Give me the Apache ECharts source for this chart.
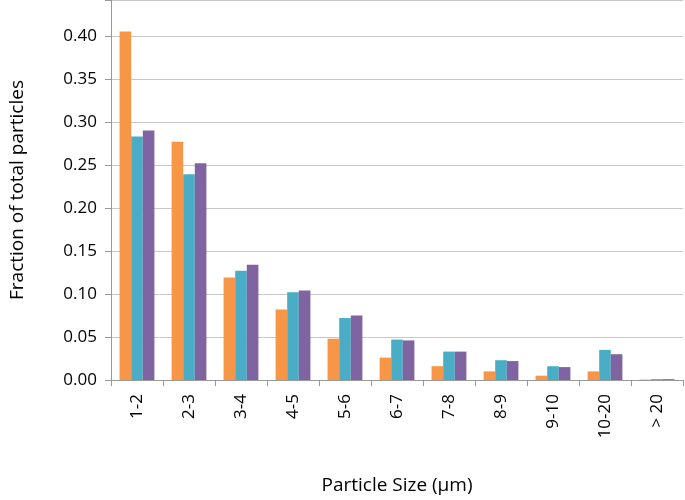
<!DOCTYPE html>
<html>
<head>
<meta charset="utf-8">
<script src="https://cdn.jsdelivr.net/npm/echarts@6/dist/echarts.min.js"></script>
<style>html,body{margin:0;padding:0;background:#fff}#main{width:685px;height:500px}</style>
</head>
<body>
<div id="main"></div>
<script>
// 粒径分类
var categories = ['1-2', '2-3', '3-4', '4-5', '5-6', '6-7', '7-8', '8-9', '9-10', '10-20', '> 20'];
var orangeVals = [0.405, 0.277, 0.119, 0.082, 0.048, 0.026, 0.016, 0.010, 0.005, 0.010, 0.0005];
var blueVals = [0.283, 0.239, 0.127, 0.102, 0.072, 0.047, 0.033, 0.023, 0.016, 0.035, 0.001];
var purpleVals = [0.290, 0.252, 0.134, 0.104, 0.075, 0.046, 0.033, 0.022, 0.015, 0.030, 0.001];

var myChart = echarts.init(document.getElementById('main'));
var font = 'Open Sans';
var option = {
  color: ['#F79646', '#4BACC6', '#8064A2'],
  animation: false,
  grid: {left: 108, right: 2, top: 0, bottom: 118},
  xAxis: {
    type: 'category',
    data: categories,
    name: 'Particle Size (μm)',
    nameLocation: 'middle',
    nameGap: 96,
    nameTextStyle: {color: '#000', fontSize: 19, fontFamily: font, verticalAlign: 'top'},
    axisLine: {lineStyle: {color: '#999'}},
    axisTick: {show: true, length: 6, lineStyle: {color: '#999'}},
    axisLabel: {rotate: 90, color: '#000', fontSize: 17, fontFamily: font, margin: 14}
  },
  yAxis: {
    type: 'value',
    min: 0, max: 0.4416, interval: 0.05,
    name: 'Fraction of total particles',
    nameLocation: 'middle',
    nameGap: 84,
    nameTextStyle: {color: '#000', fontSize: 19, fontFamily: font},
    axisLine: {show: true, lineStyle: {color: '#999'}},
    axisTick: {show: true, length: 6, lineStyle: {color: '#999'}},
    axisLabel: {color: '#000', fontSize: 17, fontFamily: font, margin: 14,
      formatter: function (v) { return v > 0.42 ? '' : v.toFixed(2); }},
    splitLine: {lineStyle: {color: '#c8c8c8'}}
  },
  series: [
    {type: 'bar', data: orangeVals, barGap: '0%', barCategoryGap: '33%'},
    {type: 'bar', data: blueVals, barGap: '0%', barCategoryGap: '33%'},
    {type: 'bar', data: purpleVals, barGap: '0%', barCategoryGap: '33%'}
  ]
};
myChart.setOption(option);
</script>
</body>
</html>
